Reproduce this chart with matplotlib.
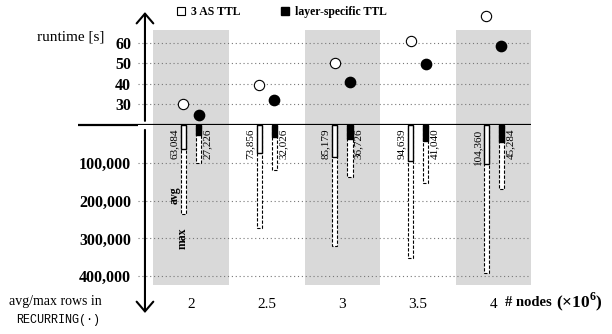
import matplotlib
matplotlib.use("Agg")
import matplotlib.pyplot as plt
from matplotlib.patches import Patch
import numpy as np

plt.rcParams['font.family'] = ['Liberation Serif', 'DejaVu Serif']
plt.rcParams['mathtext.fontset'] = 'custom'
plt.rcParams['mathtext.rm'] = 'Liberation Serif'
plt.rcParams['mathtext.bf'] = 'Liberation Serif:bold'

# data
nodes = ["2", "2.5", "3", "3.5", "4"]
runtime_3as = [30.0, 39.2, 50.2, 61.0, 72.7]
runtime_layer = [25.0, 32.3, 41.0, 49.8, 58.5]
avg_3as = [63084, 73856, 85179, 94639, 104360]
avg_layer = [27226, 32026, 36726, 41040, 45284]
max_3as = [234000, 273000, 320000, 351000, 390000]
max_layer = [101000, 119000, 138000, 153000, 170000]
runtime_ticks = [30, 40, 50, 60]
rows_ticks = [100000, 200000, 300000, 400000]

W, H = 612, 334
fig = plt.figure(figsize=(W / 100, H / 100), dpi=100)


def px_box(l, t, r, b):
    return [l / W, 1 - b / H, (r - l) / W, (b - t) / H]


ax_t = fig.add_axes(px_box(138, 10, 531, 125))
ax_b = fig.add_axes(px_box(138, 125, 531, 285))

x = np.arange(len(nodes))
off = 0.1
bw = 0.068
gray = "#d9d9d9"
grid_kw = dict(color="#777777", ls=(0, (1, 2.5)), lw=0.8, zorder=1)

for ax in (ax_t, ax_b):
    ax.set_xlim(-0.70, 4.49)
    for s in ax.spines.values():
        s.set_visible(False)
    ax.tick_params(length=0)

# --- top: runtime ---
ax_t.set_ylim(20, 75.8)
ax_t.bar(x[::2], 46, bottom=20, width=1, color=gray, zorder=0)
for v in runtime_ticks:
    ax_t.axhline(v, **grid_kw)
ax_t.scatter(x - off, runtime_3as, s=55, facecolor="white", edgecolor="black",
             linewidth=0.8, zorder=4, clip_on=False)
ax_t.scatter(x + off, runtime_layer, s=55, color="black", zorder=4, clip_on=False)
ax_t.set_xticks([])
ax_t.set_yticks(runtime_ticks)
ax_t.set_yticklabels([str(v) for v in runtime_ticks], fontsize=11.5, fontweight="bold")
ax_t.tick_params(axis="y", pad=5)

# horizontal axis line and vertical arrows
ax_t.plot([-1.49, 4.49], [20, 20], color="black", lw=1.6, clip_on=False,
          solid_capstyle="butt", zorder=6)
arrow = dict(arrowstyle="->,head_length=0.35,head_width=0.3", lw=1.5, color="black",
             shrinkA=0, shrinkB=0, mutation_scale=20)
ax_t.annotate("", xy=(-0.608, 74.8), xytext=(-0.608, 22), arrowprops=arrow,
              annotation_clip=False)
ax_b.annotate("", xy=(-0.608, 497000), xytext=(-0.608, 13000), arrowprops=arrow,
              annotation_clip=False)

# --- bottom: avg / max rows ---
ax_b.set_ylim(423000, 0)
ax_b.bar(x[::2], 430000, width=1, color=gray, zorder=0)
for v in rows_ticks:
    ax_b.axhline(v, **grid_kw)
ax_b.bar(x - off, max_3as, width=bw, facecolor="white", edgecolor="black",
         linestyle=(0, (3, 1.5)), linewidth=0.8, zorder=2)
ax_b.bar(x + off, max_layer, width=bw, facecolor="white", edgecolor="black",
         linestyle=(0, (3, 1.5)), linewidth=0.8, zorder=2)
ax_b.bar(x - off, avg_3as, width=bw, facecolor="white", edgecolor="black",
         linewidth=1.0, zorder=3)
ax_b.bar(x + off, avg_layer, width=bw, facecolor="black", edgecolor="black",
         linewidth=1.0, zorder=3)
for i in x:
    ax_b.text(i - 0.16, 9000, f"{avg_3as[i]:,}", rotation=90, ha="right", va="top",
              fontsize=8, zorder=5)
    ax_b.text(i + 0.155, 9000, f"{avg_layer[i]:,}", rotation=90, ha="left", va="top",
              fontsize=8, zorder=5)
ax_b.text(-0.22, 185000, "avg", rotation=90, ha="center", va="center",
          fontsize=8.5, fontweight="bold", zorder=5)
ax_b.text(-0.105, 299000, "max", rotation=90, ha="center", va="center",
          fontsize=8.5, fontweight="bold", zorder=5)

ax_b.set_yticks(rows_ticks)
ax_b.set_yticklabels([f"{v:,}" for v in rows_ticks], fontsize=11.5, fontweight="bold")
ax_b.tick_params(axis="y", pad=5)
ax_b.set_xticks(x)
ax_b.set_xticklabels(nodes, fontsize=11)
ax_b.tick_params(axis="x", pad=9)

# side labels
fig.text(104 / W, 1 - 37 / H, "runtime [s]", ha="right", va="center", fontsize=11)
fig.text(102 / W, 1 - 302 / H, "avg/max rows in", ha="right", va="center", fontsize=10)
fig.text(100 / W, 1 - 320 / H, "RECURRING(·)", ha="right", va="center", fontsize=8.5,
         family=["Liberation Mono", "DejaVu Sans Mono"])
fig.text(505 / W, 1 - 303 / H, "# nodes", ha="left", va="center", fontsize=10.5,
         fontweight="bold")
fig.text(556 / W, 1 - 302 / H, r"(×10$^{\mathbf{6}}$)", ha="left", va="center",
         fontsize=12.5, fontweight="bold")

fig.legend(handles=[Patch(facecolor="white", edgecolor="black", linewidth=0.8),
                    Patch(facecolor="black", edgecolor="black")],
           labels=["3 AS TTL", "layer-specific TTL"], loc="center",
           bbox_to_anchor=(282 / W, 1 - 12 / H), ncol=2, frameon=False,
           prop={"weight": "bold", "size": 8.5}, handlelength=0.7, handleheight=0.7,
           handletextpad=0.5, columnspacing=3.4, borderpad=0)

fig.savefig("out.png", dpi=100)
